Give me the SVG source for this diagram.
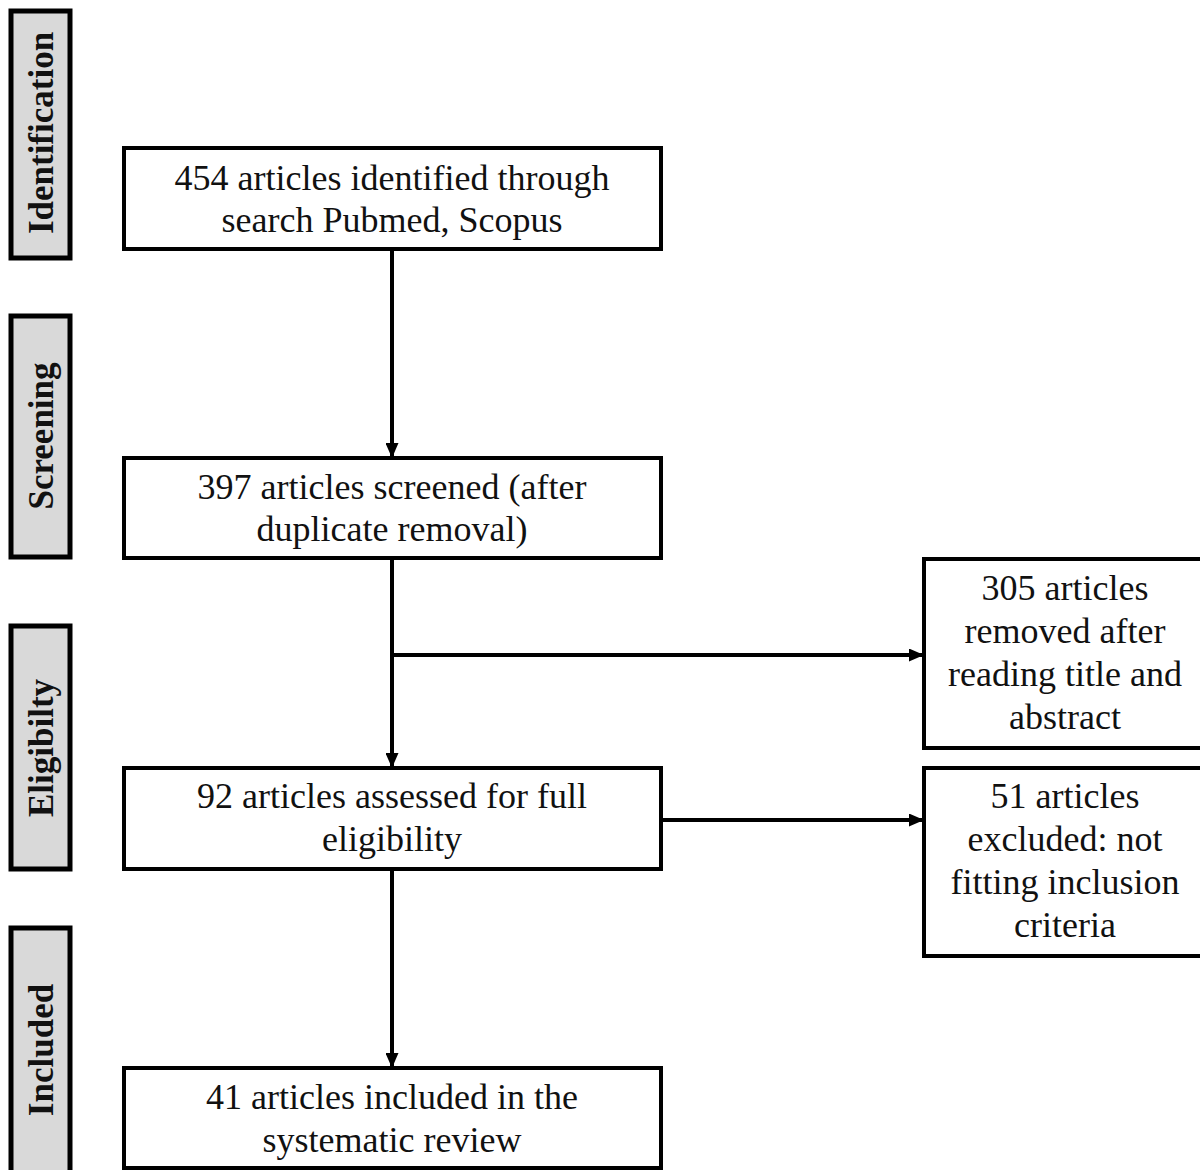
<svg xmlns="http://www.w3.org/2000/svg" width="1200" height="1170" viewBox="0 0 1200 1170">
<defs>
<marker id="ah" markerWidth="15" markerHeight="13" refX="14" refY="6.5" orient="auto" markerUnits="userSpaceOnUse">
<path d="M0,0 L15,6.5 L0,13 Z" fill="#000"/>
</marker>
<style>
.box{fill:#fff;stroke:#000;stroke-width:4}
.side{fill:#d9d9d9;stroke:#000;stroke-width:5}
.t{font-family:"Liberation Serif","Times New Roman",serif;font-size:36px;fill:#111;text-anchor:middle}
.s{font-family:"Liberation Serif","Times New Roman",serif;font-size:35px;font-weight:bold;fill:#111;text-anchor:middle}
.c{stroke:#000;stroke-width:4;fill:none}
</style>
</defs>
<rect width="1200" height="1170" fill="#fff"/>
<g id="side-identification"><rect class="side" x="11" y="11" width="59" height="247"/><text class="s" transform="translate(53,133) rotate(-90)">Identification</text></g>
<g id="side-screening"><rect class="side" x="11" y="316" width="59" height="241"/><text class="s" transform="translate(53,436) rotate(-90)">Screening</text></g>
<g id="side-eligibility"><rect class="side" x="11" y="626" width="59" height="243"/><text class="s" transform="translate(53,748) rotate(-90)">Eligibilty</text></g>
<g id="side-included"><rect class="side" x="11" y="928" width="59" height="260"/><text class="s" transform="translate(53,1050) rotate(-90)">Included</text></g>
<g id="connectors">
<line class="c" x1="392" y1="250" x2="392" y2="457" marker-end="url(#ah)"/>
<line class="c" x1="392" y1="559" x2="392" y2="767" marker-end="url(#ah)"/>
<line class="c" x1="392" y1="655" x2="923" y2="655" marker-end="url(#ah)"/>
<line class="c" x1="661" y1="820" x2="923" y2="820" marker-end="url(#ah)"/>
<line class="c" x1="392" y1="870" x2="392" y2="1067" marker-end="url(#ah)"/>
</g>
<g id="n1"><rect class="box" x="124" y="148" width="537" height="101"/><text class="t" x="392" y="190">454 articles identified through</text><text class="t" x="392" y="232">search Pubmed, Scopus</text></g>
<g id="n2"><rect class="box" x="124" y="458" width="537" height="100"/><text class="t" x="392" y="499">397 articles screened (after</text><text class="t" x="392" y="541">duplicate removal)</text></g>
<g id="n3"><rect class="box" x="124" y="768" width="537" height="101"/><text class="t" x="392" y="808">92 articles assessed for full</text><text class="t" x="392" y="851">eligibility</text></g>
<g id="n4"><rect class="box" x="124" y="1068" width="537" height="100"/><text class="t" x="392" y="1109">41 articles included in the</text><text class="t" x="392" y="1152">systematic review</text></g>
<g id="n5"><rect class="box" x="924" y="559" width="280" height="189"/><text class="t" x="1065" y="600">305 articles</text><text class="t" x="1065" y="643">removed after</text><text class="t" x="1065" y="686">reading title and</text><text class="t" x="1065" y="729">abstract</text></g>
<g id="n6"><rect class="box" x="924" y="768" width="280" height="188"/><text class="t" x="1065" y="808">51 articles</text><text class="t" x="1065" y="851">excluded: not</text><text class="t" x="1065" y="894">fitting inclusion</text><text class="t" x="1065" y="937">criteria</text></g>
</svg>
